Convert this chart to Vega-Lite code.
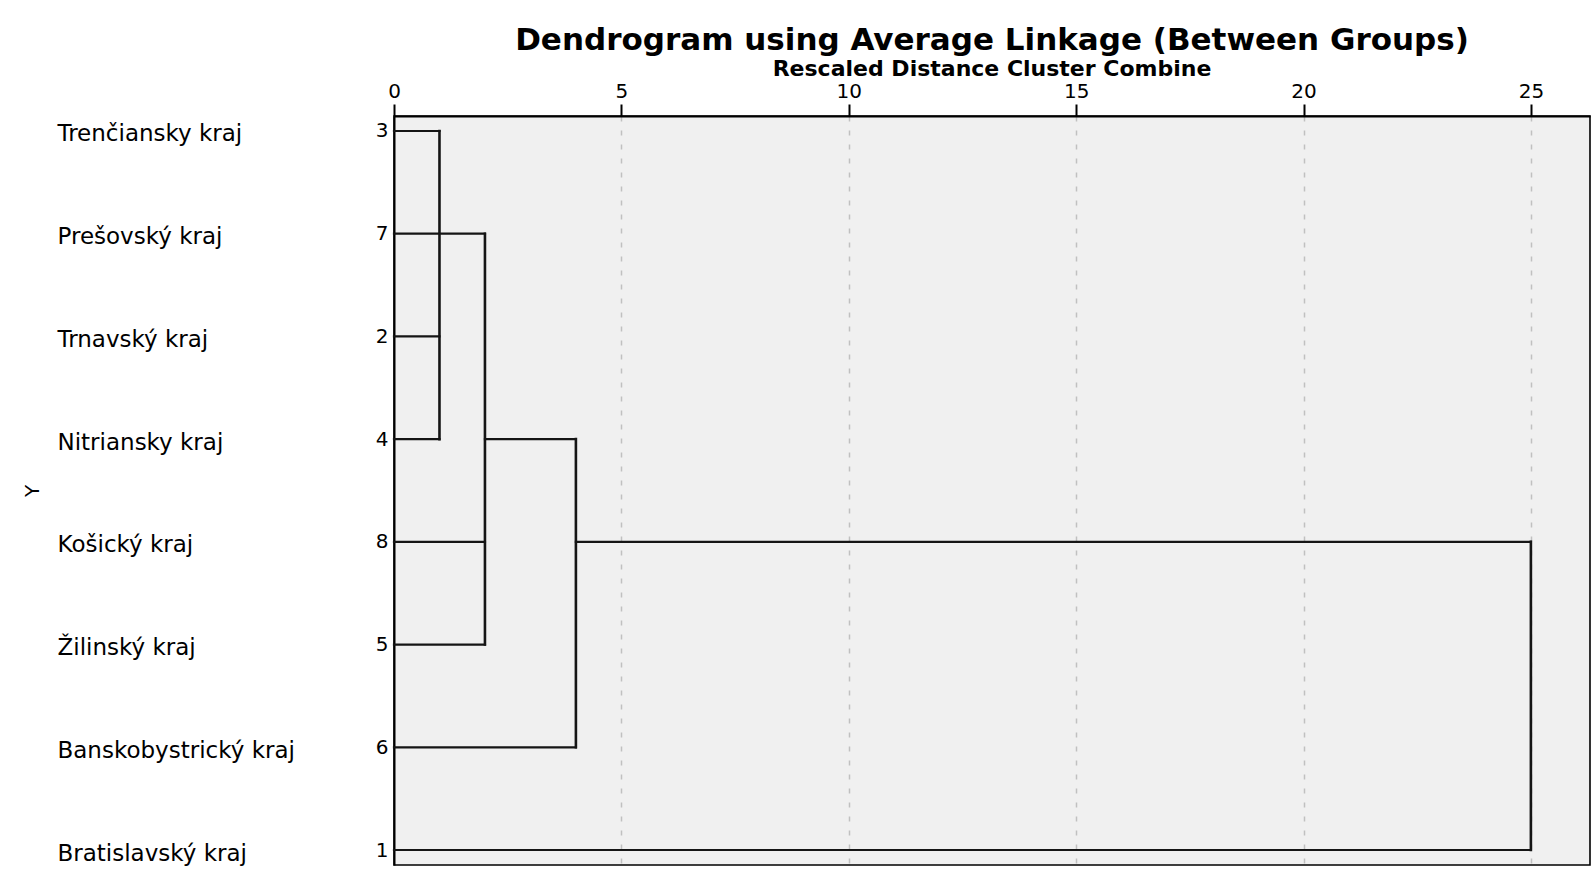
{
  "$schema": "https://vega.github.io/schema/vega-lite/v6.json",
  "width": 1196,
  "height": 749,
  "autosize": {"type": "none"},
  "padding": {"left": 394, "top": 116, "right": 1, "bottom": 4},
  "background": "#ffffff",
  "title": {
    "text": "Dendrogram using Average Linkage (Between Groups)",
    "subtitle": "Rescaled Distance Cluster Combine",
    "anchor": "middle",
    "font": "DejaVu Sans",
    "fontSize": 31,
    "fontWeight": "bold",
    "color": "#000000",
    "subtitleFont": "DejaVu Sans",
    "subtitleFontSize": 22,
    "subtitleFontWeight": "bold",
    "subtitleColor": "#000000",
    "subtitlePadding": 2,
    "offset": 0
  },
  "config": {
    "view": {"fill": "#f0f0f0", "stroke": "#000000", "strokeWidth": 1.6},
    "axis": {"labelFont": "DejaVu Sans", "titleFont": "DejaVu Sans", "labelColor": "#000000", "titleColor": "#000000"}
  },
  "layer": [
    {
      "data": {"values": [
        {"y": 1, "x": 0, "x2": 1},
        {"y": 2, "x": 0, "x2": 2},
        {"y": 3, "x": 0, "x2": 1},
        {"y": 4, "x": 0, "x2": 1},
        {"y": 4, "x": 2, "x2": 4},
        {"y": 5, "x": 0, "x2": 2},
        {"y": 5, "x": 4, "x2": 25},
        {"y": 6, "x": 0, "x2": 2},
        {"y": 7, "x": 0, "x2": 4},
        {"y": 8, "x": 0, "x2": 25}
      ]},
      "mark": {"type": "rule", "color": "#151515", "strokeWidth": 2.2, "strokeCap": "square"},
      "encoding": {
        "x": {
          "field": "x", "type": "quantitative",
          "scale": {"domain": [0, 26.3], "nice": false, "zero": false},
          "axis": {
            "orient": "top", "values": [0, 5, 10, 15, 20, 25], "title": null,
            "labelFontSize": 20, "labelPadding": 3, "labelFlush": false,
            "tickSize": 12, "tickWidth": 2, "tickColor": "#000000",
            "domain": true, "domainColor": "#000000", "domainWidth": 2,
            "grid": true, "gridColor": "#c0c0c0", "gridWidth": 1.5, "gridDash": [5, 9],
            "gridOpacity": {"condition": {"test": "datum.value === 0", "value": 0}, "value": 1}
          }
        },
        "x2": {"field": "x2"},
        "y": {
          "field": "y", "type": "quantitative",
          "scale": {"domain": [0.854, 8.146], "nice": false, "zero": false, "reverse": true},
          "axis": {
            "orient": "left", "values": [1, 2, 3, 4, 5, 6, 7, 8],
            "labelExpr": "['3','7','2','4','8','5','6','1'][datum.value - 1]",
            "labelFontSize": 20, "labelPadding": 6, "labelAlign": "right", "labelBaseline": "middle",
            "tickSize": 0, "ticks": false, "grid": false,
            "domain": true, "domainColor": "#000000", "domainWidth": 2,
            "title": null
          }
        }
      }
    },
    {
      "data": {"values": [
        {"x": 1, "y": 1, "y2": 4},
        {"x": 2, "y": 2, "y2": 6},
        {"x": 4, "y": 4, "y2": 7},
        {"x": 25, "y": 5, "y2": 8}
      ]},
      "mark": {"type": "rule", "color": "#151515", "strokeWidth": 2.6, "strokeCap": "square"},
      "encoding": {
        "x": {"field": "x", "type": "quantitative"},
        "y": {
          "field": "y", "type": "quantitative",
          "axis": {
            "orient": "left", "values": [1, 2, 3, 4, 5, 6, 7, 8],
            "labelExpr": "['Trenčiansky kraj','Prešovský kraj','Trnavský kraj','Nitriansky kraj','Košický kraj','Žilinský kraj','Banskobystrický kraj','Bratislavský kraj'][datum.value - 1]",
            "labelFontSize": 23, "labelPadding": 337, "labelAlign": "left", "labelBaseline": "middle", "labelLimit": 400, "labelOffset": 3,
            "tickSize": 0, "ticks": false, "grid": false, "domain": false,
            "title": "Y", "titleFontSize": 20, "titleFontWeight": "normal",
            "titleX": -352, "titleY": 374.5, "titleAngle": -90
          }
        },
        "y2": {"field": "y2"}
      }
    }
  ],
  "resolve": {"axis": {"y": "independent"}}
}
